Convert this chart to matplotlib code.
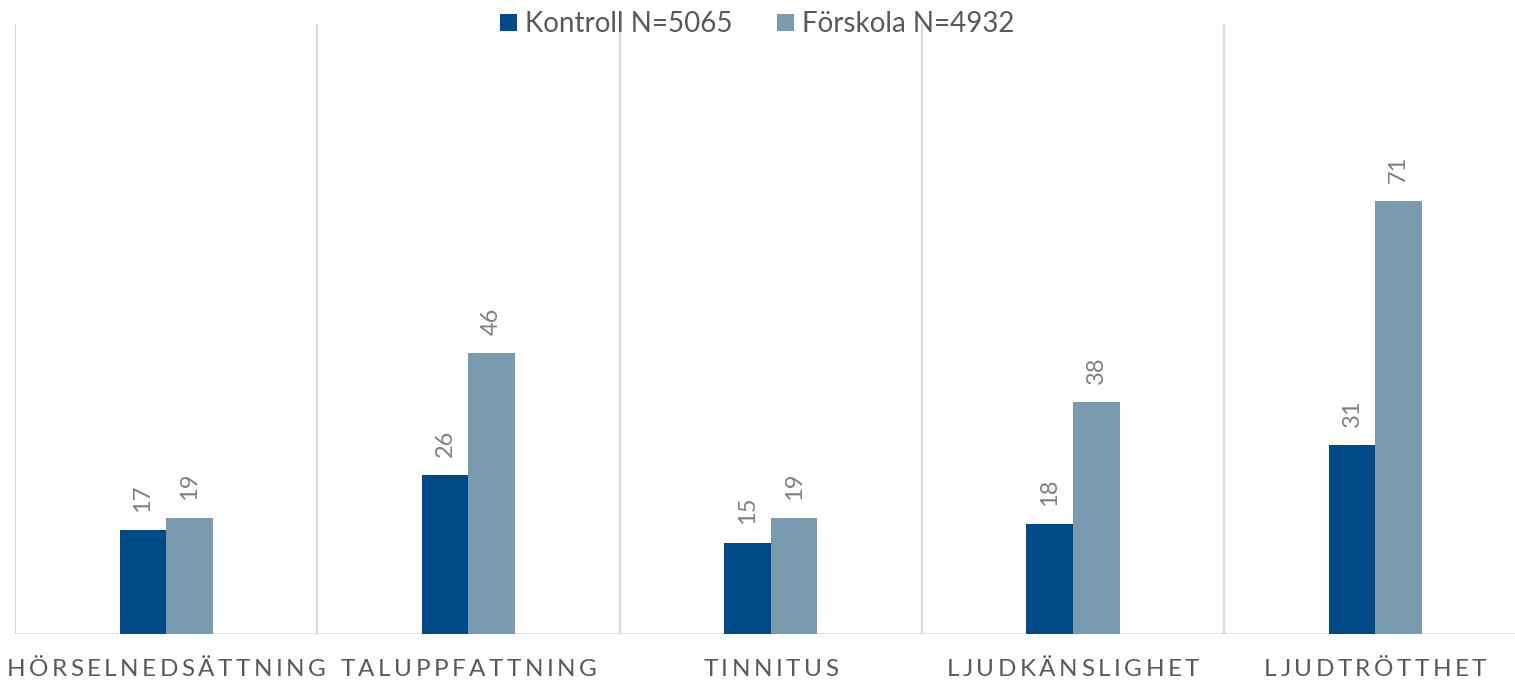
import matplotlib
matplotlib.use("Agg")
import matplotlib.pyplot as plt
from matplotlib.patches import Patch
from matplotlib.font_manager import FontProperties
import numpy as np

categories = ["HÖRSELNEDSÄTTNING", "TALUPPFATTNING", "TINNITUS", "LJUDKÄNSLIGHET", "LJUDTRÖTTHET"]
series_names = ["Kontroll N=5065", "Förskola N=4932"]
kontroll = [17, 26, 15, 18, 31]
forskola = [19, 46, 19, 38, 71]

colors = ["#004A87", "#7A9AAF"]
FONT = "Lato"
plt.rcParams["font.family"] = [FONT, "DejaVu Sans"]

W, H, DPI = 1515, 683, 100
fig = plt.figure(figsize=(W / DPI, H / DPI), dpi=DPI)
left_px, right_px, bottom_px, top_px = 15, 15 + 5 * 302.3, 634, 24
ax = fig.add_axes([left_px / W, 1 - bottom_px / H, (right_px - left_px) / W, (bottom_px - top_px) / H])

x = np.arange(len(categories))
bw = 0.154
b1 = ax.bar(x - bw / 2, kontroll, bw, color=colors[0], zorder=3)
b2 = ax.bar(x + bw / 2, forskola, bw, color=colors[1], zorder=3)

for bars, vals in ((b1, kontroll), (b2, forskola)):
    for rect, v in zip(bars, vals):
        ax.annotate(str(v), (rect.get_x() + rect.get_width() / 2, rect.get_height()),
                    xytext=(0, 13), textcoords="offset points", rotation=90,
                    ha="center", va="bottom", fontsize=17, color="#808080")

ax.set_xlim(-0.5, len(categories) - 0.5)
ax.set_ylim(0, 100)
for b in np.arange(-0.5, len(categories) - 0.5, 1.0):
    ax.axvline(b, color="#D9D9D9", lw=1.6, zorder=1)
ax.axhline(0, color="#D9D9D9", lw=1.8, zorder=2)
for s in ax.spines.values():
    s.set_visible(False)
ax.set_xticks([])
ax.set_yticks([])
ax.patch.set_alpha(0)

# legend
handles = [Patch(facecolor=c, edgecolor="none") for c in colors]
fig.legend(handles, series_names, loc="upper center", bbox_to_anchor=(0.5, 1.02), ncol=2,
           frameon=False, fontsize=20, handlelength=0.6, handleheight=0.6,
           handletextpad=0.3, columnspacing=1.6, labelcolor="#595959")

# category labels with letter spacing
fig.canvas.draw()
renderer = fig.canvas.get_renderer()
fp = FontProperties(family=[FONT, "DejaVu Sans"], size=17.5)
spacing = 3.5
label_y = 669
for i, cat in enumerate(categories):
    widths = [renderer.get_text_width_height_descent(ch, fp, ismath=False)[0] for ch in cat]
    total = sum(widths) + spacing * (len(cat) - 1)
    cx = ax.transData.transform((x[i], 0))[0]
    pos = cx - total / 2
    for ch, w in zip(cat, widths):
        fig.text(pos / W, 1 - label_y / H, ch, fontproperties=fp, color="#595959",
                 ha="left", va="center")
        pos += w + spacing

fig.savefig("out.png", dpi=DPI, facecolor="white")
